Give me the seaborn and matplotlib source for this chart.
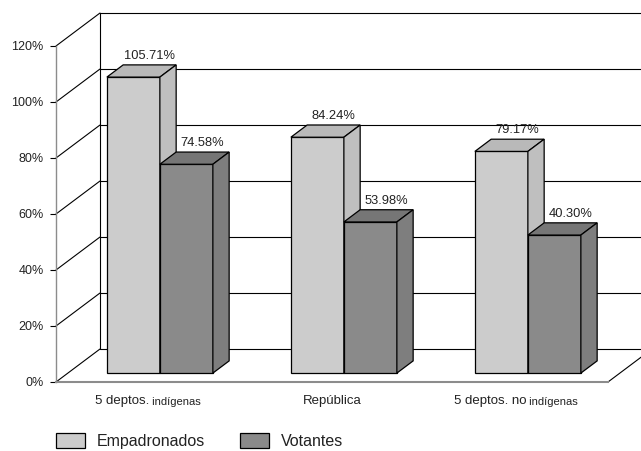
import pandas as pd
import seaborn as sns
import matplotlib.pyplot as plt

from matplotlib.patches import Polygon
from matplotlib.transforms import Affine2D

# datos del gráfico
categorias = ["5 deptos. indígenas", "República", "5 deptos. no indígenas"]
etiqueta_normal = ["5 deptos.", "República", "5 deptos. no"]
etiqueta_chica = ["indígenas", "", "indígenas"]
series = ["Empadronados", "Votantes"]
# alturas de barra tal como se ven en el gráfico
empadronados = [105.71, 84.24, 79.17]
votantes = [74.58, 53.98, 49.3]
# rótulos impresos sobre las barras
rotulos_empadronados = ["105.71%", "84.24%", "79.17%"]
rotulos_votantes = ["74.58%", "53.98%", "40.30%"]
y_ticks = [0, 20, 40, 60, 80, 100, 120]

colores_frente = ["#cccccc", "#8a8a8a"]
colores_tapa = ["#b9b9b9", "#767676"]
colores_lado = ["#bfbfbf", "#7e7e7e"]

df = pd.DataFrame({
    "categoria": categorias * 2,
    "serie": [series[0]] * 3 + [series[1]] * 3,
    "valor": empadronados + votantes,
})
rotulos = [rotulos_empadronados, rotulos_votantes]

sns.set_style("white")
plt.rcParams["font.family"] = ["Liberation Sans", "DejaVu Sans"]
texto = "#222222"

fig = plt.figure(figsize=(6.41, 4.51), dpi=100)
ax = fig.add_axes([56 / 641, 69 / 451, 552 / 641, 336 / 451])

sns.barplot(data=df, x="categoria", y="valor", hue="serie",
            palette=colores_frente, saturation=1, width=0.576,
            edgecolor="black", linewidth=0.9, errorbar=None, ax=ax)

ax.set_xlim(-0.5, 2.5)
ax.set_ylim(0, 120)

# profundidad del "piso" 3D en unidades de datos
DX, DY = 44 / 184, 33 / 2.8
F1, F2 = 0.27, 0.64

# pared del fondo y líneas de perspectiva
lin = dict(color="black", lw=0.8, clip_on=False, zorder=1)
for t in y_ticks:
    ax.plot([-0.5, -0.5 + DX], [t, t + DY], **lin)
    ax.plot([-0.5 + DX, 2.5 + DX], [t + DY, t + DY], **lin)
ax.plot([-0.5 + DX, -0.5 + DX], [DY, 120 + DY], **lin)
ax.plot([2.5, 2.5 + DX], [0, DY], **lin)

# barras con caras superior y lateral
shift = Affine2D().translate(F1 * DX, F1 * DY)
dx, dy = (F2 - F1) * DX, (F2 - F1) * DY
for k, cont in enumerate(ax.containers):
    for j, bar in enumerate(cont):
        bar.set_transform(shift + ax.transData)
        bar.set_clip_on(False)
        bar.set_zorder(3 + k)
        x0 = bar.get_x() + F1 * DX
        w = bar.get_width()
        h = bar.get_height()
        y0 = F1 * DY
        tapa = [(x0, y0 + h), (x0 + w, y0 + h),
                (x0 + w + dx, y0 + h + dy), (x0 + dx, y0 + h + dy)]
        lado = [(x0 + w, y0), (x0 + w + dx, y0 + dy),
                (x0 + w + dx, y0 + h + dy), (x0 + w, y0 + h)]
        for pts, col in [(tapa, colores_tapa[k]), (lado, colores_lado[k])]:
            ax.add_patch(Polygon(pts, closed=True, facecolor=col,
                                 edgecolor="black", lw=0.9, clip_on=False,
                                 zorder=3 + k, joinstyle="miter"))
        ax.annotate(rotulos[k][j], xy=(x0 + w / 2 + dx, y0 + h + dy),
                    xytext=(0, 2), textcoords="offset points",
                    ha="center", va="bottom", fontsize=9.3, color=texto,
                    zorder=10, annotation_clip=False)

# ejes
ax.set_xlabel("")
ax.set_ylabel("")
ax.set_xticks([0, 1, 2])
ax.set_xticklabels([])
ax.set_xticks([-0.5, 0.5, 1.5, 2.5], minor=True)
ax.tick_params(axis="x", which="major", length=0)
ax.tick_params(axis="x", which="minor", length=4.5, width=0.8,
               color="black", direction="out")
ax.set_yticks(y_ticks)
ax.set_yticklabels([f"{t}%" for t in y_ticks], fontsize=9, color=texto)
ax.tick_params(axis="y", length=4, width=0.8, pad=5, color="black",
               direction="out", left=True)
for s in ["top", "right"]:
    ax.spines[s].set_visible(False)
ax.spines["left"].set_color("#8c8c8c")
ax.spines["left"].set_linewidth(1)
ax.spines["bottom"].set_color("#8c8c8c")
ax.spines["bottom"].set_linewidth(1.5)

# etiquetas de categoría con parte en letra chica
pares = []
for i in range(3):
    t1 = ax.annotate(etiqueta_normal[i], xy=(i, 0),
                     xycoords=("data", "axes fraction"), xytext=(0, -19),
                     textcoords="offset pixels", ha="left", va="center",
                     fontsize=9.5, color=texto, annotation_clip=False)
    chica = (" " + etiqueta_chica[i]) if etiqueta_chica[i] else ""
    t2 = ax.annotate(chica, xy=(1, 0), xycoords=t1, ha="left", va="bottom",
                     fontsize=8, color=texto)
    pares.append((t1, t2))

# leyenda
handles, labels = ax.get_legend_handles_labels()
if ax.get_legend() is not None:
    ax.get_legend().remove()
fig.legend(handles, labels, loc="center left",
           bbox_to_anchor=(56 / 641, 10 / 451), ncol=2, frameon=False,
           fontsize=11.5, handlelength=1.8, handleheight=1.1,
           handletextpad=0.75, columnspacing=2.2, borderpad=0,
           borderaxespad=0, labelcolor=texto)

fig.canvas.draw()
r = fig.canvas.get_renderer()
for t1, t2 in pares:
    w1 = t1.get_window_extent(r).width
    w2 = t2.get_window_extent(r).width if t2.get_text() else 0
    t1.xyann = (-(w1 + w2) / 2, -19)

fig.savefig("out.png", dpi=100)
